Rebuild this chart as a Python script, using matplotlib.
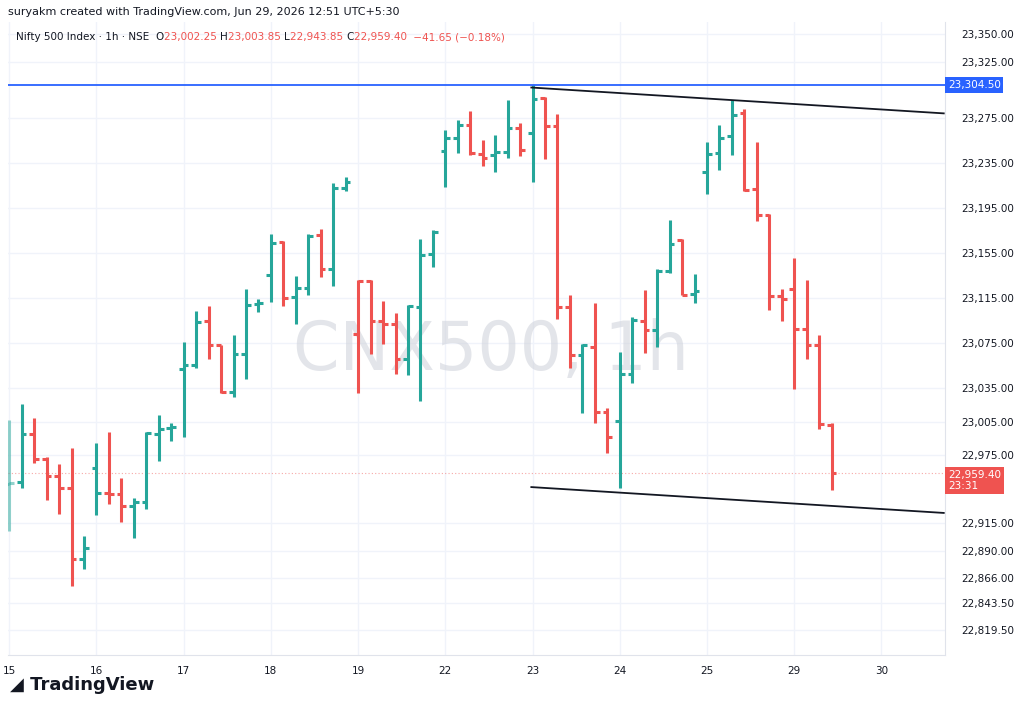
import matplotlib
matplotlib.use("Agg")
import matplotlib.pyplot as plt
import numpy as np

opens = [22949.5,22951.2,22993.7,22971.6,22956.5,22945.9,22883.1,22963.6,22941.5,22940.6,22930.0,22933.5,22993.7,22999.0,23052.0,23055.6,23094.5,23073.2,23031.7,23065.3,23109.5,23135.1,23165.2,23115.7,23123.6,23171.4,23140.4,23212.9,
         23083.0,23129.8,23094.5,23091.8,23060.9,23106.8,23154.6,23245.7,23257.2,23268.7,23243.0,23242.1,23244.8,23266.0,23261.6,23293.4,23267.8,23106.8,23064.4,23071.5,23014.0,23006.0,23047.6,23094.5,23086.5,23138.7,23167.0,23118.3,
         23227.1,23243.9,23259.0,23279.3,23212.1,23189.1,23116.6,23122.8,23087.4,23073.2,23002.25]
highs = [23006.9,23021.1,23008.7,22973.3,22967.1,22981.3,22903.5,22985.7,22995.4,22954.8,22937.1,22995.4,23010.5,23003.4,23075.9,23103.3,23107.7,23073.2,23082.1,23122.8,23113.9,23172.3,23166.1,23134.3,23172.3,23176.7,23217.4,23222.7,
         23130.7,23130.7,23112.2,23101.5,23108.6,23167.9,23175.8,23264.2,23273.1,23281.0,23255.4,23259.8,23290.8,23270.4,23304.5,23294.3,23278.4,23117.5,23074.1,23110.4,23017.5,23067.1,23098.0,23121.9,23140.4,23184.7,23167.9,23136.0,
         23253.6,23268.7,23290.8,23282.8,23253.6,23190.0,23122.8,23150.2,23130.7,23082.1,23003.85]
lows = [22907.9,22945.9,22968.0,22935.3,22922.9,22858.4,22874.3,22922.0,22931.8,22915.9,22901.7,22927.4,22969.8,22987.5,22991.0,23052.9,23060.9,23030.8,23027.3,23043.2,23102.4,23111.3,23107.7,23091.8,23117.5,23133.4,23125.4,23210.3,
        23030.8,23065.3,23074.1,23047.6,23046.7,23023.7,23142.2,23213.8,23243.9,23242.1,23232.4,23227.1,23239.5,23241.2,23218.3,23238.6,23096.2,23052.9,23013.1,23003.4,22976.9,22946.0,23039.6,23066.2,23071.5,23136.9,23117.5,23110.4,
        23207.6,23228.9,23242.1,23210.3,23183.8,23104.2,23094.5,23034.3,23060.9,22998.1,22943.85]
closes = [22950.4,22993.7,22971.6,22956.5,22945.9,22883.1,22892.9,22941.5,22940.6,22930.0,22933.5,22994.5,22998.1,22999.9,23055.6,23093.6,23073.2,23031.7,23065.3,23108.6,23110.4,23164.3,23114.8,23123.6,23170.5,23140.4,23212.9,23218.3,
          23129.8,23094.5,23091.8,23060.9,23107.7,23153.7,23174.0,23257.2,23268.7,23243.9,23239.5,23244.8,23266.0,23246.5,23292.5,23267.8,23106.8,23064.4,23073.2,23014.0,22991.0,23047.6,23095.4,23086.5,23138.7,23163.4,23117.5,23121.0,
          23243.0,23257.2,23277.5,23211.2,23189.1,23116.6,23113.9,23087.4,23073.2,23002.5,22959.4]
day_labels = ["15","16","17","18","19","22","23","24","25","29","30"]
y_ticks = [23350.0,23325.0,23275.0,23235.0,23195.0,23155.0,23115.0,23075.0,23035.0,23005.0,22975.0,22915.0,22890.0,22866.0,22843.5,22819.5]
upper_line = ([41.9, 75.0], [23302.3, 23279.3])
lower_line = ([41.9, 75.0], [22946.8, 22923.8])
hline_price = 23304.5
last_price = 22959.4

GREEN = "#26a69a"; RED = "#ef5350"
fig = plt.figure(figsize=(10.24, 7.10), dpi=100)
ax = fig.add_axes([8/1024, 1-655/710, 937/1024, 633/710])
ax.set_xlim(-0.1, 75.1)
ax.set_ylim(22797.4, 23360.6)

n = len(closes)
x = np.arange(n)
for i in range(n):
    prev = closes[i-1] if i > 0 else opens[i]
    col = GREEN if closes[i] >= prev else RED
    a = 0.5 if i == 0 else 1.0
    ax.vlines(x[i], lows[i], highs[i], color=col, lw=2.2, zorder=3, alpha=a)
    ax.hlines(opens[i], x[i]-0.38, x[i], color=col, lw=2.2, zorder=3, alpha=a)
    ax.hlines(closes[i], x[i], x[i]+0.38, color=col, lw=2.2, zorder=3, alpha=a)

day_pos = np.arange(len(day_labels)) * 7
for p in day_pos:
    ax.axvline(p, color="#f0f3fa", lw=1, zorder=0)
for t in y_ticks:
    ax.axhline(t, color="#f0f3fa", lw=1, zorder=0)

ax.plot(*upper_line, color="#131722", lw=1.3, zorder=4)
ax.plot(*lower_line, color="#131722", lw=1.3, zorder=4)
ax.axhline(hline_price, color="#2962ff", lw=1.3, zorder=4)
ax.axhline(last_price, color=RED, lw=0.8, ls=(0, (1, 2)), alpha=0.5, zorder=1)

ax.text(0.515, 0.48, "CNX500, 1h", transform=ax.transAxes, ha="center", va="center",
        fontsize=48, color="#d1d4dc", alpha=0.6, zorder=1)

ax.yaxis.tick_right()
ax.set_yticks(y_ticks)
ax.set_yticklabels([f"{t:,.2f}" for t in y_ticks], fontsize=7.5, color="#131722")
ax.tick_params(axis="y", length=0, pad=12)
ax.set_xticks(day_pos)
ax.set_xticklabels(day_labels, fontsize=7.5, color="#131722")
ax.tick_params(axis="x", length=0, pad=8)
for s in ["top", "left"]:
    ax.spines[s].set_visible(False)
ax.spines["right"].set_color("#e0e3eb")
ax.spines["bottom"].set_color("#e0e3eb")

ax.text(1.003, hline_price, f"{hline_price:,.2f}", transform=ax.get_yaxis_transform(),
        fontsize=7.5, color="white", va="center", ha="left",
        bbox=dict(boxstyle="square,pad=0.25", fc="#2962ff", ec="none"), zorder=5)
ax.text(1.003, last_price - 7, f"{last_price:,.2f}\n23:31", transform=ax.get_yaxis_transform(),
        fontsize=7.5, color="white", va="center", ha="left", linespacing=1.1,
        bbox=dict(boxstyle="square,pad=0.3", fc=RED, ec="none"), zorder=5)

fig.text(8/1024, 1-12/710, "suryakm created with TradingView.com, Jun 29, 2026 12:51 UTC+5:30",
         fontsize=8, color="#131722", va="center")
parts = [("Nifty 500 Index · 1h · NSE  ", "#131722"), ("O", "#131722"), ("23,002.25 ", RED),
         ("H", "#131722"), ("23,003.85 ", RED), ("L", "#131722"), ("22,943.85 ", RED),
         ("C", "#131722"), ("22,959.40 ", RED), (" −41.65 (−0.18%)", RED)]
xpos = 16
fig.canvas.draw()
r = fig.canvas.get_renderer()
for s, c in parts:
    t = fig.text(xpos/1024, 1-37/710, s, fontsize=7.5, color=c, va="center")
    xpos += t.get_window_extent(renderer=r).width
fig.text(10/1024, 1-685/710, "◢ TradingView", fontsize=13, fontweight="bold", color="#131722", va="center")
fig.savefig("out.png", dpi=100, facecolor="white")
